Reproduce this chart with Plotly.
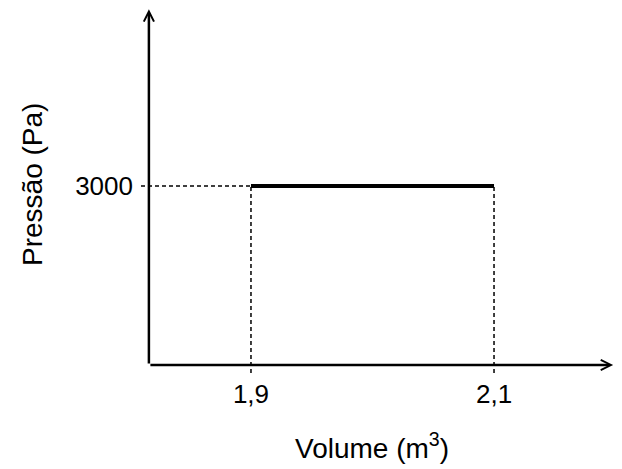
import plotly.graph_objects as go

# dados do processo isobárico
volume = [1.9, 2.1]
pressao = [3000, 3000]
volume_labels = ["1,9", "2,1"]
pressao_labels = ["3000"]

# tamanho da figura e margens (px)
W, H = 614, 461
ML, MR, MT, MB = 133, 5, 1, 96

# limites dos eixos (em unidades dos dados)
x_lo, x_hi = 1.8095, 2.2012
y_lo, y_hi = -134.1, 5966.5
x_orig, y_orig = 1.816, 0
x_tip, y_tip = 2.198, 5962

tick_font = dict(family="Liberation Sans, Arial, sans-serif", size=26, color="black")
title_font = dict(family="Liberation Sans, Arial, sans-serif", size=28, color="black")
tracejado = dict(color="black", width=1.5, dash="4px,3px")


def paper(px, py):
    # posição em pixels da figura -> coordenadas paper
    return (px - ML) / (W - ML - MR), (H - MB - py) / (H - MT - MB)


fig = go.Figure()

# linhas tracejadas de referência
for v, p in zip(volume, pressao):
    fig.add_trace(go.Scatter(x=[v, v], y=[y_lo, p], mode="lines", line=tracejado, hoverinfo="skip"))
fig.add_trace(go.Scatter(x=[x_lo, volume[0]], y=[pressao[0], pressao[0]], mode="lines",
                         line=tracejado, hoverinfo="skip"))

# transformação a pressão constante
fig.add_trace(go.Scatter(x=volume, y=pressao, mode="lines",
                         line=dict(color="black", width=4), hoverinfo="skip"))

# eixos com setas
seta = dict(text="", showarrow=True, arrowhead=5, arrowsize=0.8, arrowwidth=2.5,
            arrowcolor="black", xref="x", yref="y", axref="x", ayref="y")
fig.add_annotation(x=x_tip, y=y_orig, ax=x_orig, ay=y_orig, **seta)
fig.add_annotation(x=x_orig, y=y_tip, ax=x_orig, ay=y_orig, **seta)

# títulos dos eixos
vx, vy = paper(364, 438)
fig.add_annotation(text="Volume (m<sup>3</sup>)", x=vx, y=vy, xref="paper", yref="paper",
                   xanchor="center", yanchor="middle", showarrow=False, font=title_font)
px_, py_ = paper(25, 177)
fig.add_annotation(text="Pressão (Pa)", x=px_, y=py_, xref="paper", yref="paper", textangle=-90,
                   xanchor="center", yanchor="middle", showarrow=False, font=title_font)

fig.update_layout(
    width=W, height=H,
    margin=dict(l=ML, r=MR, t=MT, b=MB, pad=0),
    paper_bgcolor="white", plot_bgcolor="white",
    showlegend=False,
    xaxis=dict(range=[x_lo, x_hi], tickvals=volume, ticktext=volume_labels,
               showgrid=False, zeroline=False, showline=False, ticks="",
               ticklabelstandoff=3, tickfont=tick_font, fixedrange=True),
    yaxis=dict(range=[y_lo, y_hi], tickvals=[pressao[0]], ticktext=pressao_labels,
               showgrid=False, zeroline=False, showline=False, ticks="",
               ticklabelstandoff=7, tickfont=tick_font, fixedrange=True),
)

fig.write_html("out.html")
